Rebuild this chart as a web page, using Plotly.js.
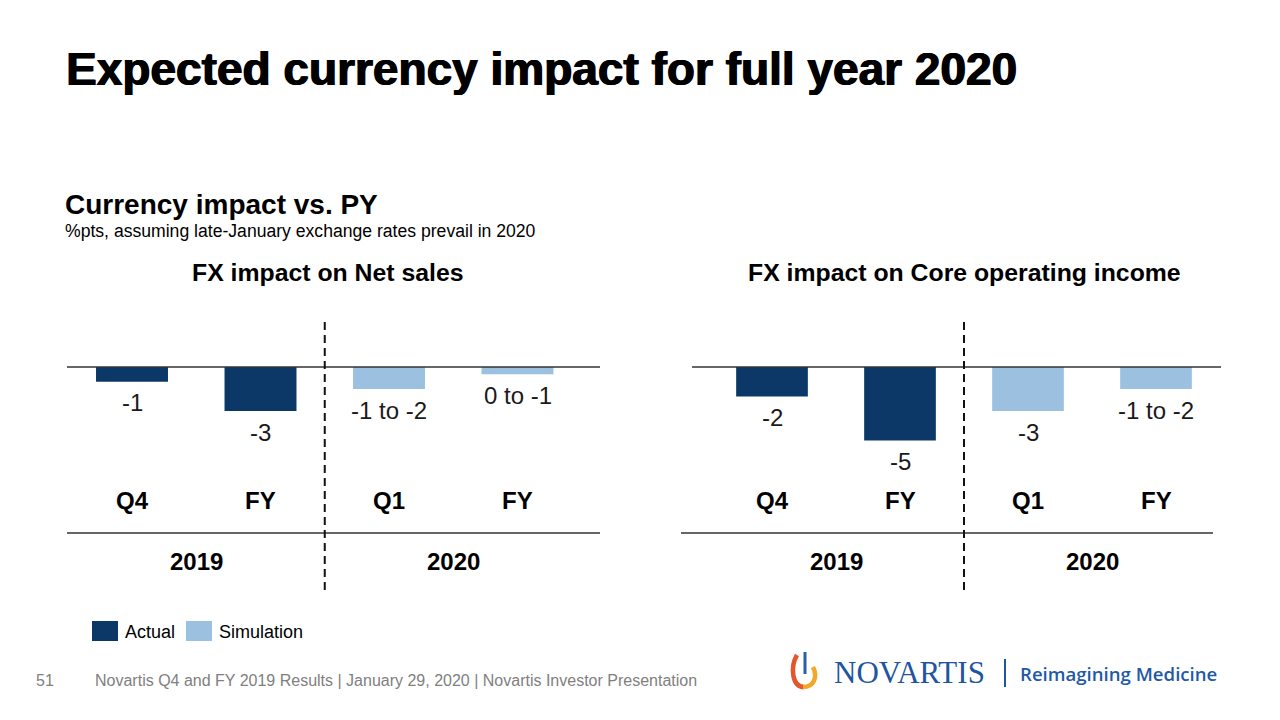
<!DOCTYPE html>
<html><head><meta charset="utf-8">
<script src="https://cdn.plot.ly/plotly-3.0.1.min.js"></script>
<style>html,body{margin:0;padding:0;background:#fff}#chart{width:1280px;height:720px}</style>
</head><body><div id="chart"></div>
<script>
// ---- data ----
const periods = ['Q4', 'FY', 'Q1', 'FY'];
const years = ['2019', '2019', '2020', '2020'];
const status = ['Actual', 'Actual', 'Simulation', 'Simulation'];
const netSales = [-1, -3, -1.5, -0.5];
const netSalesLabels = ['-1', '-3', '-1 to -2', '0 to -1'];
const coreOpInc = [-2, -5, -3, -1.5];
const coreOpIncLabels = ['-2', '-5', '-3', '-1 to -2'];
const panelTitles = ['FX impact on Net sales', 'FX impact on Core operating income'];
const legendItems = ['Actual', 'Simulation'];
const mainTitle = 'Expected currency impact for full year 2020';
const subTitle = 'Currency impact vs. PY';
const unitNote = '%pts, assuming late-January exchange rates prevail in 2020';
const pageNo = '51';
const footer = 'Novartis Q4 and FY 2019 Results | January 29, 2020 | Novartis Investor Presentation';

// ---- style ----
const W = 1280, H = 720;
const colors = {Actual: '#0b3866', Simulation: '#9cc0e0'};
const FONT = 'Liberation Sans, Arial, Helvetica, sans-serif';
const px = x => x / W;
const py = y => 1 - y / H;
const idx = periods.map((_, i) => i);

const panels = [
  {vals: netSales, labels: netSalesLabels, xa: 'x', ya: 'y', dom: [67, 600], c0: 132, step: 128.5, bottom: [67, 600], tshift: 3},
  {vals: coreOpInc, labels: coreOpIncLabels, xa: 'x2', ya: 'y2', dom: [692, 1221], c0: 772, step: 128, bottom: [681, 1213], tshift: 0}
];

const yTop = 337.6, yBot = 484.6; // pixel mapping of y range [-8, 2]
const traces = [], annotations = [], shapes = [];
const layout = {
  width: W, height: H, margin: {l: 0, r: 0, t: 0, b: 0},
  paper_bgcolor: '#fff', plot_bgcolor: 'rgba(0,0,0,0)', showlegend: false,
  font: {family: FONT, color: '#000'}
};

panels.forEach((p, k) => {
  const xk = k === 0 ? 'xaxis' : 'xaxis2';
  const yk = k === 0 ? 'yaxis' : 'yaxis2';
  layout[xk] = {
    domain: [px(p.dom[0]), px(p.dom[1])],
    range: [(p.dom[0] - p.c0) / p.step, (p.dom[1] - p.c0) / p.step],
    visible: false, fixedrange: true, anchor: p.ya
  };
  layout[yk] = {
    domain: [py(yBot), py(yTop)], range: [-8, 2],
    visible: false, fixedrange: true, anchor: p.xa
  };
  traces.push({
    type: 'bar', x: idx, y: p.vals, xaxis: p.xa, yaxis: p.ya, width: 0.56,
    marker: {color: status.map(s => colors[s]), line: {width: 0}},
    hoverinfo: 'skip'
  });
  idx.forEach(i => {
    annotations.push({
      xref: p.xa, yref: p.ya, x: i, y: p.vals[i], yanchor: 'middle', yshift: -21,
      text: p.labels[i], showarrow: false, font: {size: 24, color: '#1a1a1a', family: FONT}
    });
    annotations.push({
      xref: p.xa, yref: 'paper', x: i, y: py(500), yanchor: 'middle',
      text: '<b>' + periods[i] + '</b>', showarrow: false, font: {size: 24, color: '#000', family: FONT}
    });
  });
  [...new Set(years)].forEach(yr => {
    const members = idx.filter(i => years[i] === yr);
    const mid = members.reduce((a, b) => a + b, 0) / members.length;
    annotations.push({
      xref: p.xa, yref: 'paper', x: mid, y: py(561), yanchor: 'middle',
      text: '<b>' + yr + '</b>', showarrow: false, font: {size: 24, color: '#000', family: FONT}
    });
  });
  annotations.push({
    xref: p.xa, yref: 'paper', x: 1.5, y: py(272), yanchor: 'middle', xshift: p.tshift,
    text: '<b>' + panelTitles[k] + '</b>', showarrow: false, font: {size: 24.8, color: '#000', family: FONT}
  });
  shapes.push({type: 'line', xref: p.xa + ' domain', yref: p.ya, x0: 0, x1: 1, y0: 0, y1: 0,
    line: {color: '#333', width: 1.6}, layer: 'above'});
  shapes.push({type: 'line', xref: 'paper', yref: 'paper', x0: px(p.bottom[0]), x1: px(p.bottom[1]),
    y0: py(533), y1: py(533), line: {color: '#333', width: 1.6}});
  shapes.push({type: 'line', xref: p.xa, yref: 'paper', x0: 1.5, x1: 1.5, y0: py(322), y1: py(590),
    line: {color: '#111', width: 2, dash: '8px,5px'}, layer: 'above'});
});

// titles
annotations.push({xref: 'paper', yref: 'paper', x: px(64), y: py(69), xanchor: 'left', yanchor: 'middle',
  text: '<b>' + mainTitle + '</b>', showarrow: false,
  font: {size: 46, color: '#000', family: FONT, shadow: '0.8px 0 0 #000, -0.6px 0 0 #000'}});
annotations.push({xref: 'paper', yref: 'paper', x: px(63), y: py(204), xanchor: 'left', yanchor: 'middle',
  text: '<b>' + subTitle + '</b>', showarrow: false, font: {size: 28, color: '#000', family: FONT}});
annotations.push({xref: 'paper', yref: 'paper', x: px(63), y: py(231), xanchor: 'left', yanchor: 'middle',
  text: unitNote, showarrow: false, font: {size: 17.6, color: '#000', family: FONT}});

// legend
const legX = [92, 186];
legendItems.forEach((name, i) => {
  shapes.push({type: 'rect', xref: 'paper', yref: 'paper', x0: px(legX[i]), x1: px(legX[i] + 26),
    y0: py(641), y1: py(621), fillcolor: colors[name], line: {width: 0}});
  annotations.push({xref: 'paper', yref: 'paper', x: px(legX[i] + 31), y: py(632), xanchor: 'left', yanchor: 'middle',
    text: name, showarrow: false, font: {size: 18, color: '#000', family: FONT}});
});

// footer
annotations.push({xref: 'paper', yref: 'paper', x: px(34), y: py(680), xanchor: 'left', yanchor: 'middle',
  text: pageNo, showarrow: false, font: {size: 16, color: '#808080', family: FONT}});
annotations.push({xref: 'paper', yref: 'paper', x: px(93), y: py(680), xanchor: 'left', yanchor: 'middle',
  text: footer, showarrow: false, font: {size: 16, color: '#808080', family: FONT}});

// logo
const P = (x, y) => `${px(x)},${py(y)}`;
shapes.push({type: 'path', xref: 'paper', yref: 'paper',
  path: `M ${P(797, 655)} C ${P(790, 667)} ${P(792, 687)} ${P(804, 687)}`,
  line: {color: '#e2572b', width: 4.5}, fillcolor: 'rgba(0,0,0,0)'});
shapes.push({type: 'path', xref: 'paper', yref: 'paper',
  path: `M ${P(803, 687)} C ${P(814, 687)} ${P(818, 677)} ${P(813, 667)}`,
  line: {color: '#f2a62a', width: 4.5}, fillcolor: 'rgba(0,0,0,0)'});
shapes.push({type: 'line', xref: 'paper', yref: 'paper', x0: px(805), x1: px(805), y0: py(652), y1: py(674),
  line: {color: '#2a5fa8', width: 3}});
annotations.push({xref: 'paper', yref: 'paper', x: px(832), y: py(672), xanchor: 'left', yanchor: 'middle',
  text: 'NOVARTIS', showarrow: false, font: {size: 31, color: '#1f55a0', family: 'Liberation Serif, DejaVu Serif, serif'}});
annotations.push({xref: 'paper', yref: 'paper', x: px(1018), y: py(673), xanchor: 'left', yanchor: 'middle',
  text: 'Reimagining Medicine', showarrow: false, font: {size: 18.6, color: '#1f5aa6', family: 'Open Sans, sans-serif', weight: 600}});
shapes.push({type: 'line', xref: 'paper', yref: 'paper', x0: px(1005), x1: px(1005), y0: py(659), y1: py(687),
  line: {color: '#1f55a0', width: 2}});

layout.annotations = annotations;
layout.shapes = shapes;

Plotly.newPlot('chart', traces, layout, {staticPlot: true, displayModeBar: false});
</script>
</body></html>
